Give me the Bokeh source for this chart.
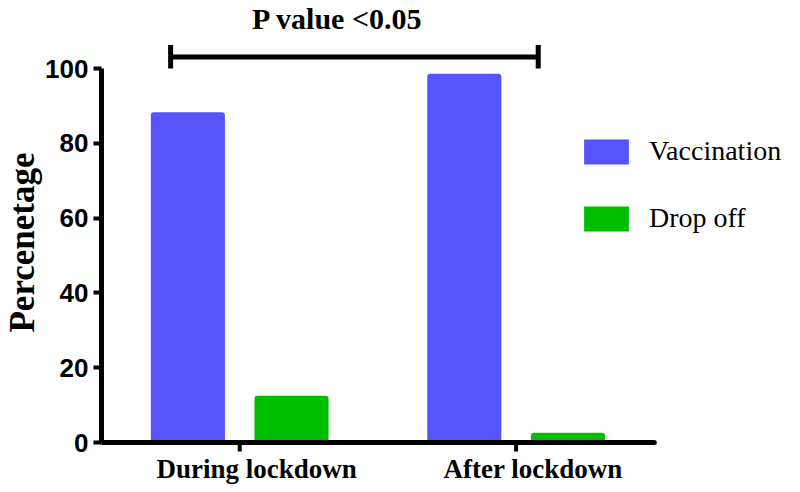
import math
from bokeh.plotting import figure
from bokeh.models import Range1d, FixedTicker, Legend, LegendItem, Label, LabelSet, ColumnDataSource
from bokeh.transform import dodge
from bokeh.embed import file_html
from bokeh.resources import INLINE

# ---- data ----
categories = ["During lockdown", "After lockdown"]
vaccination = [88.3, 98.6]
drop_off = [12.5, 2.6]
series_names = ["Vaccination", "Drop off"]
y_ticks = [0, 20, 40, 60, 80, 100]
title_text = "P value <0.05"
y_label = "Percenetage"

# ---- style ----
BLUE = "#5555FB"
GREEN = "#00BE00"
SERIF = "Liberation Serif"
SANS = "Liberation Sans"

xpos = list(range(1, len(categories) + 1))
src = ColumnDataSource(dict(x=xpos, vac=vaccination, drop=drop_off, cat=categories,
                            base=[0] * len(xpos)))

p = figure(width=784, height=484, output_backend="svg", toolbar_location=None,
           x_axis_location=None,
           x_range=Range1d(0.5, 2.971), y_range=Range1d(-11.23, 118.2),
           min_border_left=92, min_border_right=0, min_border_top=0,
           min_border_bottom=0)
p.outline_line_color = None
p.grid.visible = False
p.background_fill_color = "white"
p.border_fill_color = "white"

r1 = p.vbar(x=dodge("x", -0.1875, range=p.x_range), top="vac", bottom=0, width=0.268,
            source=src, fill_color=BLUE, line_color=None, border_radius=(3, 3, 0, 0))
r2 = p.vbar(x=dodge("x", 0.1875, range=p.x_range), top="drop", bottom=0, width=0.268,
            source=src, fill_color=GREEN, line_color=None, border_radius=(3, 3, 0, 0))

# x axis line and category ticks at y = 0
p.segment(x0=[xpos[0] - 0.5], y0=[0], x1=[xpos[-1] + 0.5], y1=[0],
          line_color="black", line_width=5, line_cap="round")
p.ray(x="x", y="base", source=src, length=9, length_units="screen",
      angle=-math.pi / 2, line_color="black", line_width=4)

# category labels
p.add_layout(LabelSet(x="x", y="base", text="cat", source=src, x_offset=17, y_offset=-35,
                      text_align="center", text_baseline="alphabetic", text_font=SERIF,
                      text_font_style="bold", text_font_size="27px", text_color="black"))

# y axis
ya = p.yaxis[0]
ya.bounds = (0, 100)
ya.ticker = FixedTicker(ticks=y_ticks)
ya.axis_line_width = 5
ya.major_tick_line_width = 4
ya.major_tick_out = 8
ya.major_tick_in = 0
ya.minor_tick_out = 0
ya.minor_tick_in = 0
ya.major_label_standoff = 5
ya.major_label_text_font = SANS
ya.major_label_text_font_style = "bold"
ya.major_label_text_font_size = "26px"
ya.major_label_text_color = "black"
ya.axis_label = y_label
ya.axis_label_text_font = SERIF
ya.axis_label_text_font_style = "bold"
ya.axis_label_text_font_size = "35px"
ya.axis_label_standoff = 0
ya.axis_label_text_color = "black"

# significance bracket and title
p.segment(x0=[0.75, 0.75, 2.08], y0=[103.1, 100.0, 100.0],
          x1=[2.08, 0.75, 2.08], y1=[103.1, 106.3, 106.3],
          line_color="black", line_width=5)
p.add_layout(Label(x=1.354, y=113.3, text=title_text, text_align="center",
                   text_baseline="alphabetic", text_font=SERIF, text_font_style="bold",
                   text_font_size="30px", text_color="black"))

legend = Legend(items=[LegendItem(label=series_names[0], renderers=[r1]),
                       LegendItem(label=series_names[1], renderers=[r2])],
                location=(477, 250), glyph_width=56, glyph_height=31,
                label_height=31, label_standoff=15, spacing=35, padding=0, margin=0,
                border_line_color=None, background_fill_alpha=0,
                label_text_font=SERIF, label_text_font_size="28px",
                label_text_color="black")
p.add_layout(legend)

open("out.html", "w").write(file_html(p, INLINE))
